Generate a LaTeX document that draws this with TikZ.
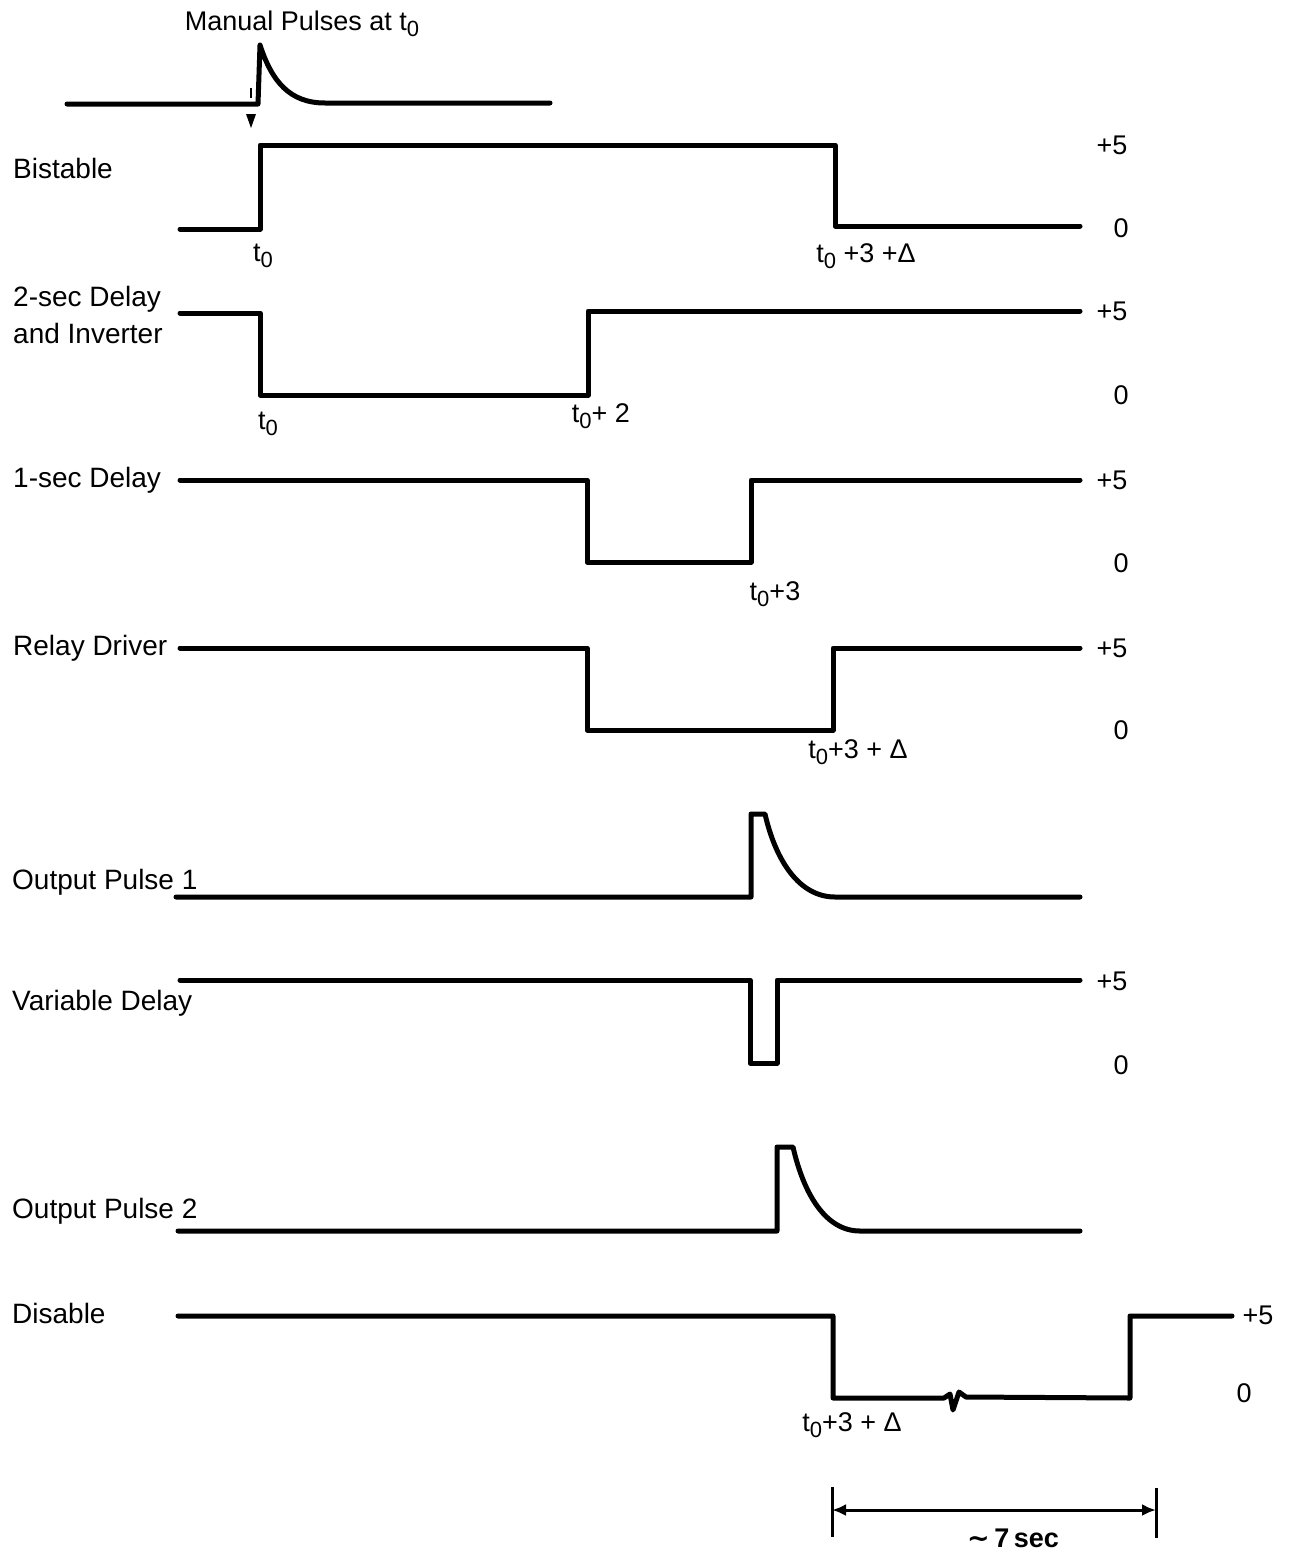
\documentclass[tikz,border=0pt]{standalone}
\usepackage{fontspec}
\setmainfont{Liberation Sans}
\newfontfamily\djv{DejaVu Sans}
\usetikzlibrary{arrows.meta}
\newcommand{\tz}{t\raisebox{-0.45ex}{\fontsize{22}{22}\selectfont 0}}
\tikzset{
  sig/.style={line width=5pt, line join=round, line cap=round},
  lbl/.style={anchor=west, inner sep=0pt, font=\fontsize{28}{32}\selectfont},
  lvl/.style={inner sep=0pt, font=\fontsize{27}{32}\selectfont},
  tlbl/.style={inner sep=0pt, font=\fontsize{27}{32}\selectfont},
}
\begin{document}
\begin{tikzpicture}[x=1pt,y=-1pt]
\useasboundingbox[fill=white] (0,0) rectangle (1291,1556);

% Manual pulses
\node[tlbl] (mp) at (302,24) {Manual Pulses at \tz};
\draw[sig] (67,104) -- (258,104) -- (260,45)
  .. controls (272,82) and (290,103) .. (325,103) -- (550,103);
\draw[line width=2pt] (251,88) -- (251,98);
\fill (246,114) -- (256,114) -- (251,128) -- cycle;

% Bistable
\node[lbl] (l1) at (13,168) {Bistable};
\draw[sig] (180,229) -- (260,229) -- (260,145) -- (835,145) -- (835,226) -- (1080,226);
\node[lvl] (p1) at (1112,145) {+5};
\node[lvl] (z1) at (1121,228) {0};
\node[tlbl] (t1a) at (263,256) {\tz};
\node[tlbl] (t1b) at (866,256) {\tz\ +3 +Δ};

% 2-sec delay and inverter
\node[lbl] (l2a) at (13,299) {2-sec Delay};
\node[lbl] (l2b) at (13,333) {and Inverter};
\draw[sig] (180,313) -- (260,313) -- (260,395) -- (588,395) -- (588,311) -- (1080,311);
\node[lvl] (p2) at (1112,311) {+5};
\node[lvl] (z2) at (1121,395) {0};
\node[tlbl] (t2a) at (268,424) {\tz};
\node[tlbl] (t2b) at (601,416) {\tz+ 2};

% 1-sec delay
\node[lbl] (l3) at (13,480) {1-sec Delay};
\draw[sig] (180,480) -- (587,480) -- (587,562) -- (751,562) -- (751,480) -- (1080,480);
\node[lvl] (p3) at (1112,480) {+5};
\node[lvl] (z3) at (1121,563) {0};
\node[tlbl] (t3) at (775,594) {\tz+3};

% Relay driver
\node[lbl] (l4) at (13,648) {Relay Driver};
\draw[sig] (180,648) -- (587,648) -- (587,730) -- (833,730) -- (833,648) -- (1080,648);
\node[lvl] (p4) at (1112,648) {+5};
\node[lvl] (z4) at (1121,730) {0};
\node[tlbl] (t4) at (858,752) {\tz+3 + Δ};

% Output pulse 1
\node[lbl] (l5) at (12,882) {Output Pulse 1};
\draw[sig] (176,897) -- (751,897) -- (751,814) -- (765,814)
  .. controls (776,862) and (800,897) .. (835,897) -- (1080,897);

% Variable delay
\node[lbl] (l6) at (12,1003) {Variable Delay};
\draw[sig] (180,980) -- (750,980) -- (750,1063) -- (777,1063) -- (777,980) -- (1080,980);
\node[lvl] (p6) at (1112,981) {+5};
\node[lvl] (z6) at (1121,1065) {0};

% Output pulse 2
\node[lbl] (l7) at (12,1211) {Output Pulse 2};
\draw[sig] (178,1231) -- (777,1231) -- (777,1147) -- (793,1147)
  .. controls (804,1195) and (826,1231) .. (860,1231) -- (1080,1231);

% Disable
\node[lbl] (l8) at (12,1313) {Disable};
\draw[sig] (178,1316) -- (833,1316) -- (833,1398) -- (944,1398) -- (950,1394)
  -- (953,1410) -- (959,1392) -- (966,1397) -- (1130,1398) -- (1130,1316) -- (1232,1316);
\node[lvl] (p8) at (1258,1315) {+5};
\node[lvl] (z8) at (1244,1393) {0};
\node[tlbl] (t8) at (852,1425) {\tz+3 + Δ};

% 7 sec dimension
\coordinate (da) at (832,1510);
\coordinate (db) at (1156,1510);
\draw[line width=3pt] (832,1487) -- (832,1537);
\draw[line width=3pt] (1156,1488) -- (1156,1538);
\draw[line width=3pt, {Latex[length=14pt,width=12pt]}-{Latex[length=14pt,width=12pt]}] (da) -- (db);
\node[tlbl, font=\fontsize{27}{32}\selectfont\bfseries] (sev) at (1013,1538) {{\djv\bfseries ∼}\,7\,sec};
\end{tikzpicture}
\end{document}
